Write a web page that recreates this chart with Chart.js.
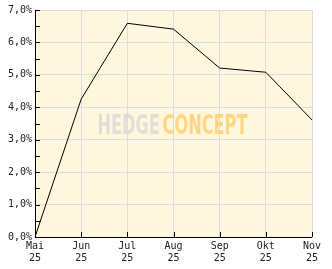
<!DOCTYPE html>
<html>
<head>
<meta charset="utf-8">
<script src="https://cdn.jsdelivr.net/npm/chart.js@4/dist/chart.umd.min.js"></script>
<style>
  html, body { margin: 0; padding: 0; background: #fff; }
  #wrap { width: 332px; height: 269px; }
</style>
</head>
<body>
<div id="wrap"><canvas id="chart" width="332" height="269"></canvas></div>
<script>
// months on the x axis (two-line labels)
const months = [['Mai', '25'], ['Jun', '25'], ['Jul', '25'], ['Aug', '25'], ['Sep', '25'], ['Okt', '25'], ['Nov', '25']];
// cumulative performance in %
const perf = [0.0, 4.25, 6.59, 6.41, 5.21, 5.08, 3.61];
const yMin = 0;
const yMax = 7;

// cream plot background + watermark
const backdrop = {
  id: 'backdrop',
  beforeDraw(chart) {
    const { ctx, chartArea: a } = chart;
    ctx.save();
    ctx.fillStyle = '#fff6de';
    ctx.fillRect(a.left, a.top, a.right - a.left, a.bottom - a.top);
    ctx.restore();
  },
  beforeDatasetsDraw(chart) {
    const { ctx, chartArea: a } = chart;
    ctx.save();
    ctx.font = 'bold 27px "DejaVu Sans Condensed", "DejaVu Sans", sans-serif';
    ctx.textBaseline = 'alphabetic';
    const w1 = ctx.measureText('HEDGE').width;
    const w2 = ctx.measureText('CONCEPT').width;
    const gap = 4;
    const target = 150;
    const sx = target / (w1 + gap + w2);
    const cx = (a.left + a.right) / 2 - 1;
    ctx.translate(cx - target / 2, 134);
    ctx.scale(sx, 1);
    ctx.fillStyle = 'rgba(212,212,212,0.7)';
    ctx.fillText('HEDGE', 0, 0);
    ctx.fillStyle = 'rgba(255,205,105,0.8)';
    ctx.fillText('CONCEPT', w1 + gap, 0);
    ctx.restore();
  }
};

// short black tick marks drawn inside the plot area
const innerTicks = {
  id: 'innerTicks',
  afterDraw(chart) {
    const { ctx, chartArea: a, scales } = chart;
    ctx.save();
    ctx.strokeStyle = '#000';
    ctx.lineWidth = 1;
    ctx.beginPath();
    for (let v = yMin; v <= yMax; v += 0.5) {
      const y = Math.round(scales.y.getPixelForValue(v)) + 0.5;
      ctx.moveTo(a.left, y);
      ctx.lineTo(a.left + 5, y);
    }
    for (let i = 0; i < months.length; i++) {
      const x = Math.round(scales.x.getPixelForValue(i)) + 0.5;
      ctx.moveTo(x, a.bottom);
      ctx.lineTo(x, a.bottom - 5);
    }
    ctx.stroke();
    // axis lines
    ctx.beginPath();
    ctx.moveTo(a.left + 0.5, a.top);
    ctx.lineTo(a.left + 0.5, a.bottom + 0.5);
    ctx.lineTo(a.right, a.bottom + 0.5);
    ctx.stroke();
    ctx.restore();
  }
};

const tickFont = { family: '"DejaVu Sans Mono", monospace', size: 10, lineHeight: 1.25 };

new Chart(document.getElementById('chart'), {
  type: 'line',
  data: {
    labels: months,
    datasets: [{
      data: perf,
      borderColor: '#000',
      borderWidth: 1,
      pointRadius: 0,
      tension: 0,
      fill: false
    }]
  },
  options: {
    responsive: false,
    animation: false,
    layout: { padding: { top: 10, right: 20, left: 0, bottom: 0 } },
    plugins: {
      legend: { display: false },
      tooltip: { enabled: false }
    },
    scales: {
      x: {
        offset: false,
        grid: { color: '#dcdcdc', drawTicks: false },
        border: { display: false },
        ticks: {
          color: '#222',
          font: tickFont,
          padding: 3,
          maxRotation: 0,
          autoSkip: false
        },
        afterFit(scale) { scale.height = 32; }
      },
      y: {
        min: yMin,
        max: yMax,
        grid: {
          color: ctx => (ctx.tick && Number.isInteger(ctx.tick.value)) ? '#dcdcdc' : 'rgba(0,0,0,0)',
          drawTicks: false
        },
        border: { display: false },
        ticks: {
          stepSize: 0.5,
          color: '#222',
          font: tickFont,
          padding: 3,
          callback: v => Number.isInteger(v) ? v.toFixed(1).replace('.', ',') + '%' : ''
        },
        afterFit(scale) { scale.width = 35; }
      }
    }
  },
  plugins: [backdrop, innerTicks]
});
</script>
</body>
</html>
